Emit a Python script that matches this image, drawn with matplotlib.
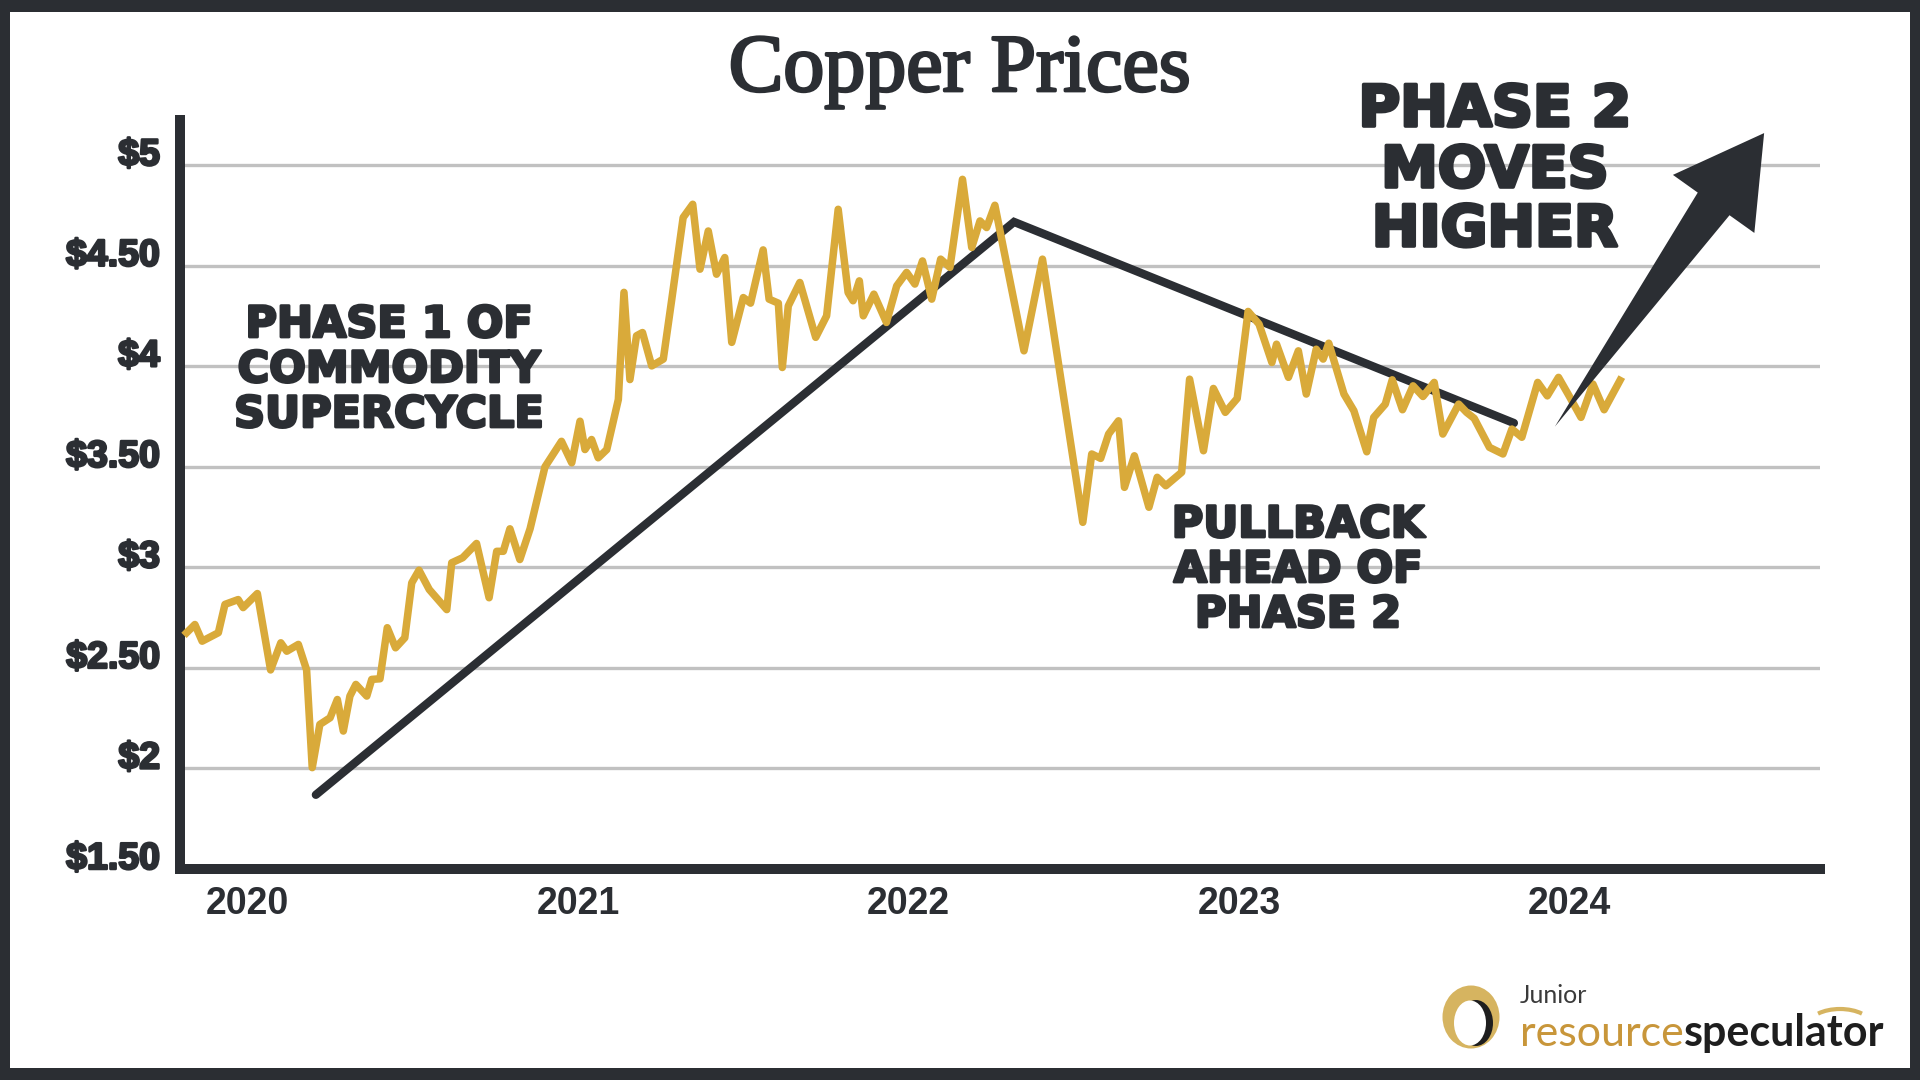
import numpy as np
import matplotlib.pyplot as plt
from matplotlib.patches import Polygon, Rectangle, Ellipse, Arc
from matplotlib import patheffects as pe
from matplotlib import transforms as mtransforms

# Copper price (USD / lb), x in decimal years
years = [2019.816, 2019.841, 2019.863, 2019.912, 2019.932, 2019.972, 2019.987, 2020.030,
         2020.070, 2020.101, 2020.119, 2020.154, 2020.179, 2020.196, 2020.219, 2020.250,
         2020.272, 2020.290, 2020.310, 2020.328, 2020.361, 2020.376, 2020.401, 2020.423,
         2020.448, 2020.476, 2020.497, 2020.519, 2020.550, 2020.603, 2020.618, 2020.651,
         2020.693, 2020.731, 2020.754, 2020.774, 2020.794, 2020.824, 2020.855, 2020.900,
         2020.950, 2020.981, 2021.006, 2021.021, 2021.041, 2021.061, 2021.087, 2021.122,
         2021.139, 2021.157, 2021.177, 2021.195, 2021.223, 2021.258, 2021.283, 2021.318,
         2021.347, 2021.369, 2021.394, 2021.419, 2021.444, 2021.465, 2021.500, 2021.522,
         2021.540, 2021.560, 2021.578, 2021.606, 2021.618, 2021.636, 2021.671, 2021.719,
         2021.752, 2021.787, 2021.817, 2021.832, 2021.851, 2021.863, 2021.895, 2021.933,
         2021.964, 2021.994, 2022.019, 2022.042, 2022.070, 2022.097, 2022.125, 2022.163,
         2022.191, 2022.216, 2022.236, 2022.261, 2022.349, 2022.405, 2022.527, 2022.554,
         2022.581, 2022.605, 2022.635, 2022.653, 2022.683, 2022.727, 2022.752, 2022.778,
         2022.826, 2022.850, 2022.892, 2022.922, 2022.958, 2022.994, 2023.027, 2023.060,
         2023.099, 2023.113, 2023.149, 2023.179, 2023.203, 2023.233, 2023.254, 2023.271,
         2023.317, 2023.347, 2023.386, 2023.407, 2023.442, 2023.463, 2023.494, 2023.526,
         2023.556, 2023.590, 2023.616, 2023.664, 2023.688, 2023.711, 2023.757, 2023.798,
         2023.825, 2023.855, 2023.903, 2023.932, 2023.966, 2023.998, 2024.034, 2024.070,
         2024.104, 2024.152]
prices = [2.675, 2.716, 2.633, 2.675, 2.816, 2.840, 2.800, 2.870,
          2.490, 2.625, 2.583, 2.617, 2.490, 2.004, 2.219, 2.252,
          2.343, 2.186, 2.360, 2.418, 2.360, 2.443, 2.446, 2.700,
          2.600, 2.650, 2.923, 2.986, 2.890, 2.790, 3.023, 3.048,
          3.119, 2.849, 3.080, 3.080, 3.192, 3.039, 3.192, 3.500,
          3.627, 3.520, 3.727, 3.586, 3.636, 3.545, 3.586, 3.835,
          4.368, 3.934, 4.152, 4.168, 4.002, 4.036, 4.326, 4.740,
          4.806, 4.483, 4.673, 4.458, 4.541, 4.119, 4.342, 4.314,
          4.442, 4.579, 4.334, 4.314, 3.994, 4.300, 4.417, 4.144,
          4.251, 4.781, 4.367, 4.326, 4.425, 4.251, 4.359, 4.218,
          4.400, 4.467, 4.409, 4.524, 4.334, 4.533, 4.492, 4.930,
          4.591, 4.723, 4.690, 4.801, 4.077, 4.533, 3.224, 3.564,
          3.542, 3.663, 3.729, 3.398, 3.555, 3.299, 3.448, 3.406,
          3.473, 3.936, 3.580, 3.890, 3.771, 3.840, 4.273, 4.210,
          4.019, 4.110, 3.945, 4.077, 3.862, 4.085, 4.036, 4.115,
          3.862, 3.779, 3.575, 3.746, 3.812, 3.933, 3.784, 3.903,
          3.850, 3.920, 3.663, 3.812, 3.771, 3.741, 3.597, 3.564,
          3.688, 3.647, 3.920, 3.853, 3.945, 3.853, 3.746, 3.912,
          3.784, 3.930]

# Hand drawn trend lines (phase 1 up, pullback down)
trend_years = [2020.207, 2022.319, 2023.831]
trend_prices = [1.869, 4.718, 3.718]

# "Phase 2" arrow, tail and tip
arrow_tail = (2023.955, 3.70)
arrow_tip = (2024.588, 5.16)

y_ticks = [1.5, 2, 2.5, 3, 3.5, 4, 4.5, 5]
y_labels = ['$1.50', '$2', '$2.50', '$3', '$3.50', '$4', '$4.50', '$5']
x_ticks = [2020, 2021, 2022, 2023, 2024]
x_labels = ['2020', '2021', '2022', '2023', '2024']

DARK = '#2b2e33'
GOLD = '#d9aa3a'
W, H = 1920, 1080


def fx(x):
    return x / W


def fy(y):
    # y measured from the top of the picture, in pixels
    return (H - y) / H


fig = plt.figure(figsize=(19.2, 10.8), dpi=100, facecolor=DARK)

# white card inside the dark frame
fig.patches.append(Rectangle((fx(10), fy(1068)), 1900 / W, 1056 / H, transform=fig.transFigure,
                             facecolor='white', edgecolor='none', zorder=-5))

ax = fig.add_axes([fx(180), fy(869), 1640 / W, 749 / H])
ax.set_facecolor('none')
ax.set_xlim(2019.796, 2024.757)
ax.set_ylim(1.5, 5.225)

# gridlines
ax.set_yticks(y_ticks)
ax.yaxis.grid(True, color='#c1c1c1', linewidth=2.4)
ax.set_axisbelow(True)

# spines
for side in ['top', 'right']:
    ax.spines[side].set_visible(False)
for side in ['left', 'bottom']:
    ax.spines[side].set_linewidth(7.2)
    ax.spines[side].set_color(DARK)
    ax.spines[side].set_capstyle('projecting')

# price line and trend lines
ax.plot(trend_years, trend_prices, color=DARK, linewidth=6, solid_capstyle='round',
        solid_joinstyle='miter', zorder=3)
ax.plot(years, prices, color=GOLD, linewidth=5.4, solid_joinstyle='round', zorder=4)

# ticks
ax.tick_params(axis='both', length=0)
ax.tick_params(axis='y', labelleft=False)
ax.set_xticks(x_ticks)
ax.set_xticklabels(x_labels, fontsize=27, fontweight='bold', color=DARK,
                   family='Liberation Sans')
ax.tick_params(axis='x', pad=12)

label_shift = mtransforms.ScaledTranslation(-20 / 100, 10 / 100, fig.dpi_scale_trans)
for v, lab in zip(y_ticks, y_labels):
    ax.text(0, v, lab, transform=ax.get_yaxis_transform() + label_shift,
            ha='right', va='center', fontsize=27, fontweight='bold', color=DARK,
            family='Liberation Sans',
            path_effects=[pe.withStroke(linewidth=1.8, foreground=DARK)])

# arrow, built in pixels so the head keeps its shape
t = ax.transData.transform(arrow_tail)
p = ax.transData.transform(arrow_tip)
u = (p - t) / np.hypot(*(p - t))
n = np.array([-u[1], u[0]])
base = p - u * 87
pts = [t, base + n * 19.5, base + n * 50, p, base - n * 50, base - n * 19.5]
ax.add_patch(Polygon(pts, closed=True, transform=mtransforms.IdentityTransform(),
                     facecolor=DARK, edgecolor='none', zorder=5, clip_on=False))

# title
fig.text(0.5, fy(91), 'Copper Prices', ha='center', va='baseline', fontsize=59,
         family='Liberation Serif', color=DARK,
         path_effects=[pe.withStroke(linewidth=2, foreground=DARK)])

# annotations
def block(lines, cx, baselines, size, stroke):
    for line, b in zip(lines, baselines):
        fig.text(fx(cx), fy(b), line, ha='center', va='baseline', fontsize=size,
                 fontweight='bold', family='DejaVu Sans', color=DARK,
                 path_effects=[pe.withStroke(linewidth=stroke, foreground=DARK)])


block(['PHASE 1 OF', 'COMMODITY', 'SUPERCYCLE'], 389, [337, 382, 427], 31, 2)
block(['PULLBACK', 'AHEAD OF', 'PHASE 2'], 1298, [537, 582, 627], 31, 2)
block(['PHASE 2', 'MOVES', 'HIGHER'], 1495, [126, 187, 246], 41, 2.6)

# logo
fig.patches.append(Ellipse((fx(1471), fy(1017)), 57 / W, 63 / H, transform=fig.transFigure,
                           facecolor='#d6b460', edgecolor='none', zorder=2))
fig.patches.append(Ellipse((fx(1476), fy(1023)), 34 / W, 46 / H, transform=fig.transFigure,
                           facecolor='#1e1e1e', edgecolor='none', zorder=3))
fig.patches.append(Ellipse((fx(1470), fy(1023)), 32 / W, 45 / H, transform=fig.transFigure,
                           facecolor='white', edgecolor='none', zorder=4))
fig.text(fx(1520), fy(1003), 'Junior', fontsize=18, family='Lato',
         color='#3a3a3a', va='baseline', ha='left')
t1 = fig.text(fx(1520), fy(1046), 'resource', fontsize=31, family='Lato',
              color='#c8963a', va='baseline', ha='left')
fig.canvas.draw()
bb = t1.get_window_extent()
fig.text(bb.x1 / W, fy(1046), 'speculator', fontsize=31, family='Lato', fontweight='bold',
         color='#1e1e1e', va='baseline', ha='left')
fig.patches.append(Arc((fx(1840), fy(1026)), 64 / W, 34 / H, theta1=45, theta2=135,
                       transform=fig.transFigure, color='#d6b460', linewidth=3, zorder=3))

fig.savefig('out.png', dpi=100, facecolor=fig.get_facecolor())
